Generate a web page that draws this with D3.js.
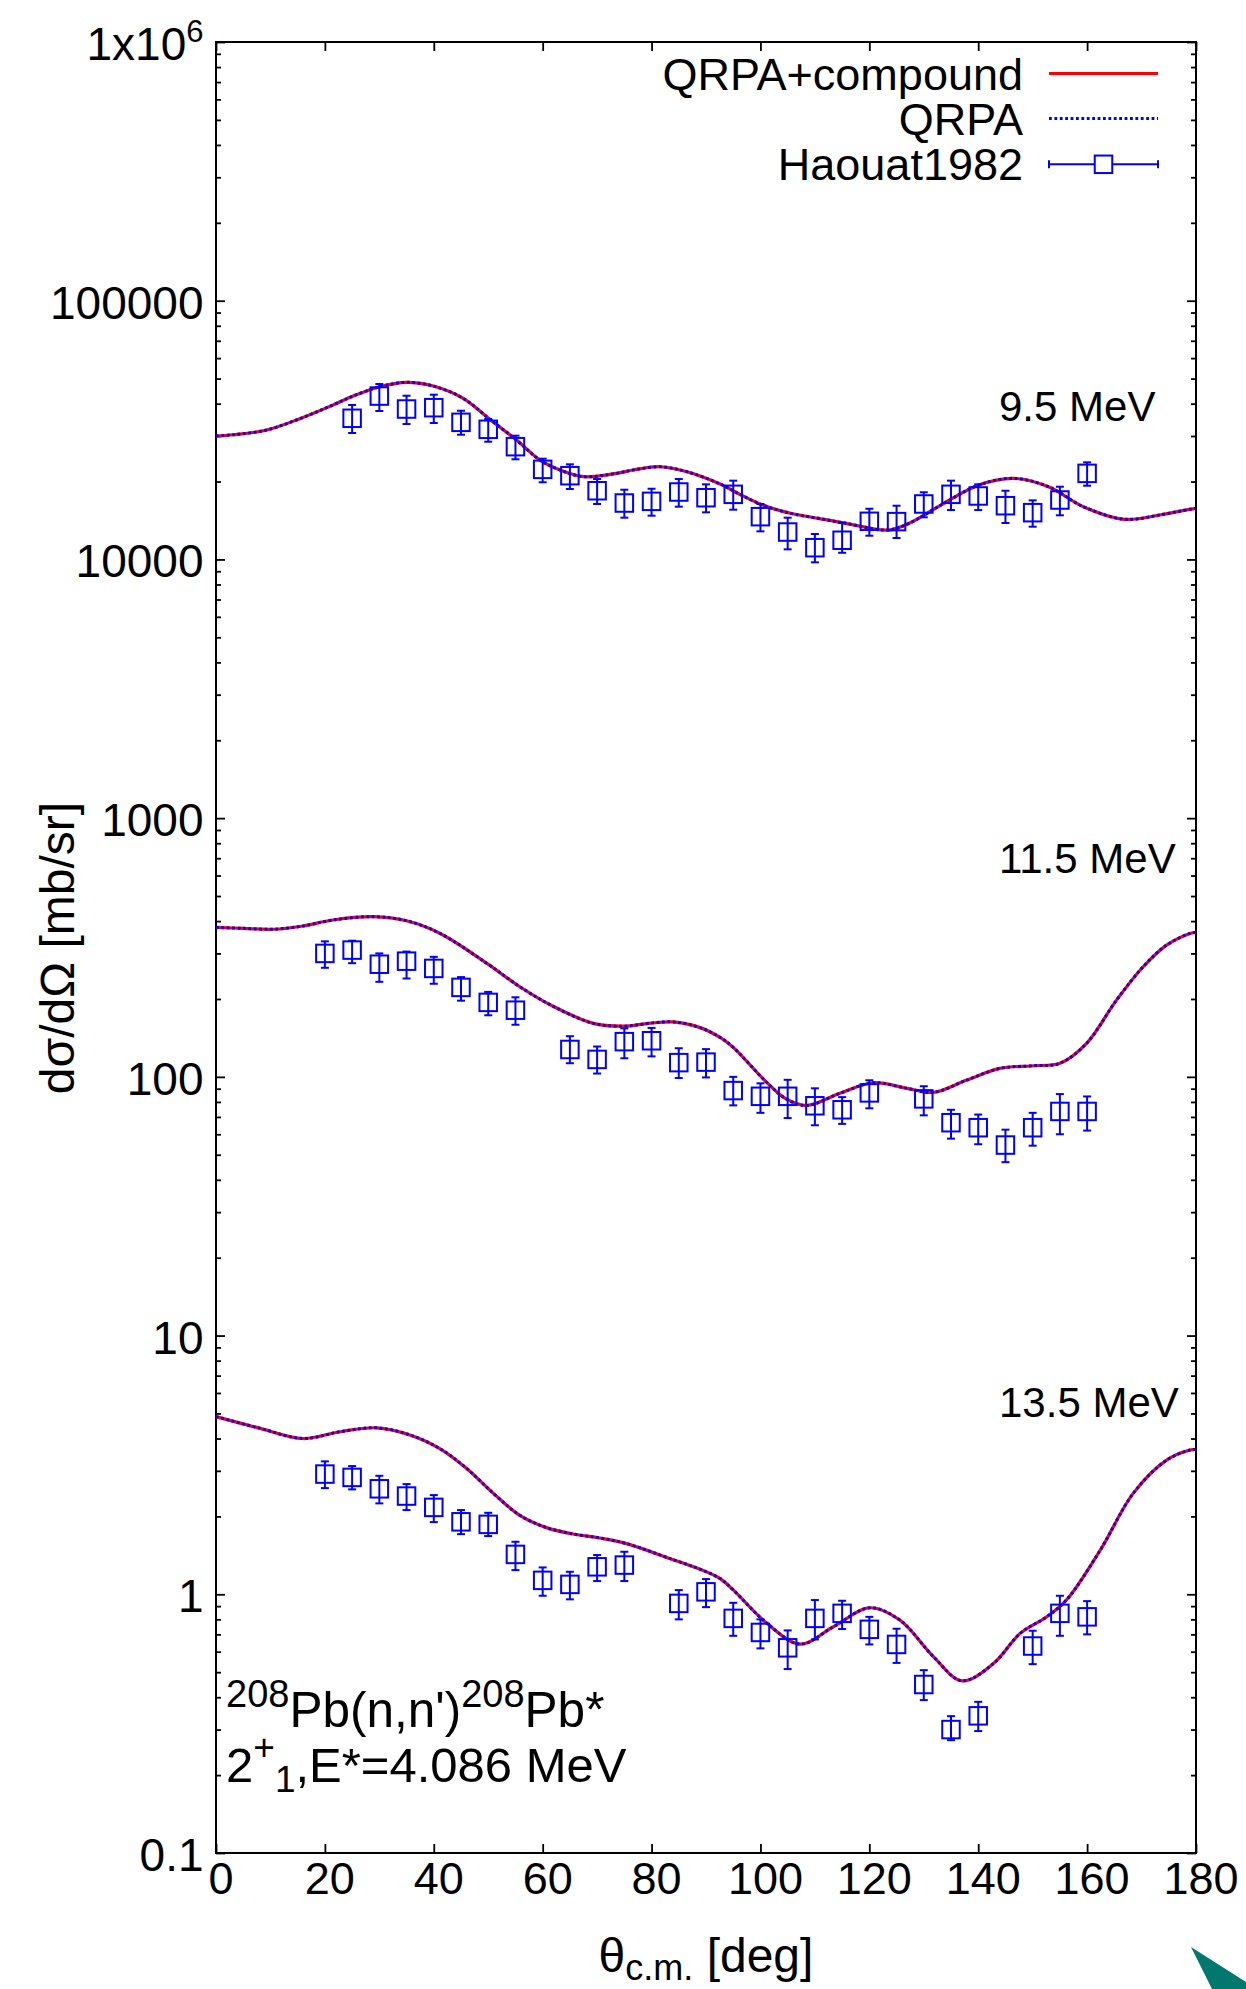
<!DOCTYPE html>
<html><head><meta charset="utf-8">
<script src="https://cdnjs.cloudflare.com/ajax/libs/d3/7.8.5/d3.min.js"></script>
<style>
html,body{margin:0;padding:0;background:#fff;}
svg{display:block;}
text{font-family:"Liberation Sans", Arial, Helvetica, sans-serif;fill:#000;}
</style></head><body>
<svg id="chart" width="1246" height="1989"></svg>
<script>
// ---------- tick labels ----------
const xTicks = [0,20,40,60,80,100,120,140,160,180];
const xTickLabels = ["0","20","40","60","80","100","120","140","160","180"];
const yTicks = [0.1,1,10,100,1000,10000,100000,1000000];
const yTickLabels = ["0.1","1","10","100","1000","10000","100000","1x10^6"];

// ---------- series names ----------
const seriesNames = ["QRPA+compound","QRPA","Haouat1982"];
const energyLabels = ["9.5 MeV","11.5 MeV","13.5 MeV"];

// ---------- theory curves (QRPA+compound and QRPA coincide) ----------
const theoryAngle95 = [0,3.2,9.3,15.4,21.5,25.2,30.1,35,39.9,45.4,50.3,55.2,59.5,63.2,67.5,73.6,76.6,81.6,86.5,92.6,95.3,100.4,105.5,110.6,115.7,123.4,127.3,133.7,140.1,146.5,152.9,159.3,166.9,173.3,178.8,180];
const theoryValue95 = [30000,30340,31640,34990,39540,42800,46520,48360,46810,41950,34780,28940,24210,22160,20890,21520,22160,22820,21830,19560,18270,16230,15080,14420,13790,12990,13790,16480,19390,20570,19100,15990,14290,14850,15620,15750];

const theoryAngle115 = [0,5,10.5,16,21.5,28.9,35,41.1,49.7,55.8,62,69.3,74.8,79.5,84,88.9,92.6,95,101.2,104.8,108.5,114.6,120.7,126.9,131.8,137.9,144,150.1,155,159.9,165.4,170.3,174.6,178.9,180];
const theoryValue115 = [378,375,372,383,404,416,401,359,275,223,187,161,157,161,163,155,142,130,95,82,77.5,86.4,94.9,90.3,87.1,97.2,107.8,110.4,112.8,134.8,198,266.5,323,358.5,362];

const theoryAngle135 = [0,8.1,16,22.8,29.5,35.6,41.1,46,50.9,55.8,60.7,65.6,70.5,75.4,84,88.9,92.6,95,101.2,107.3,113.4,120.1,125.6,131.8,137,142.8,147.7,152.6,156.2,162.4,168.5,174.6,178.9,180];
const theoryValue135 = [4.86,4.38,4.0,4.25,4.40,4.13,3.66,3.07,2.46,2.02,1.81,1.71,1.65,1.57,1.36,1.25,1.15,1.04,0.772,0.642,0.749,0.887,0.795,0.573,0.463,0.540,0.706,0.819,0.950,1.48,2.46,3.30,3.61,3.63];

// ---------- experimental data (Haouat1982) ----------
const expAngle95 = [25,30,35,40,45,50,55,60,65,70,75,80,85,90,95,100,105,110,115,120,125,130,135,140,145,150,155,160];
const expValue95 = [35120,42800,38140,38590,33880,31840,27280,22290,21070,18430,16520,16770,18220,17320,17850,14630,12760,11100,11860,14040,14000,16380,17850,17590,16130,15160,16970,21510];
const expLow95   = [30810,37470,33370,33670,30340,28510,24380,19870,18720,16380,14500,14760,15990,15210,15570,12840,10940,9745,10610,12350,12100,14550,15520,15520,13830,13380,14810,19270];
const expHigh95  = [39540,47640,42940,43330,37560,34890,30080,24510,23310,20460,18600,18760,20460,19510,20160,16380,14500,12540,13870,15700,16130,18180,20160,19510,18430,16920,19100,23730];

const expAngle115 = [20,25,30,35,40,45,50,55,65,70,75,80,85,90,95,100,105,110,115,120,130,135,140,145,150,155,160];
const expValue115 = [300,309,272.5,280,262.5,221.7,194,181,127.6,116.8,136.8,137.9,113.5,114,88.5,84.1,84.1,77.3,74.6,86.7,82.2,66.5,63.6,54.5,63.6,73.5,73.5];
const expLow115   = [264,275,233,240,229,197,173,159,112.9,103,118,120,99,99.5,77.6,72.6,69.3,65,65.8,75.6,71,57.7,54.9,46.8,54.2,60,62];
const expHigh115  = [334,336,300,305,291,243,213,203,143.6,131,154,154.6,129,128,100,94.4,97.4,90.3,83.5,97,92,74.6,71.5,62.5,72.6,85.8,84];

const expAngle135 = [20,25,30,35,40,45,50,55,60,65,70,75,85,90,95,100,105,110,115,120,125,130,135,140,150,155,160];
const expValue135 = [2.915,2.83,2.557,2.397,2.167,1.906,1.863,1.426,1.132,1.092,1.277,1.297,0.922,1.022,0.807,0.712,0.621,0.807,0.844,0.732,0.640,0.448,0.300,0.339,0.631,0.844,0.818];
const expLow135   = [2.573,2.544,2.246,2.116,1.901,1.708,1.679,1.24,0.987,0.956,1.125,1.125,0.80,0.892,0.691,0.618,0.514,0.669,0.734,0.640,0.543,0.390,0.273,0.296,0.537,0.691,0.70];
const expHigh135  = [3.264,3.13,2.871,2.667,2.418,2.116,2.065,1.596,1.27,1.222,1.418,1.46,1.038,1.145,0.927,0.80,0.725,0.95,0.944,0.818,0.736,0.509,0.338,0.384,0.723,0.987,0.941];

// ---------- layout ----------
const L = 216, R = 1196, T = 42, B = 1853;
const svg = d3.select("#chart");
const x = d3.scaleLinear().domain([0,180]).range([L,R]);
const y = d3.scaleLog().domain([0.1,1e6]).range([B,T]);

const RED = "#ff0000", BLUE = "#0000ff";

// minor ticks
const minorY = [];
for (let e = -1; e < 6; e++) for (let m = 2; m <= 9; m++) minorY.push(m * Math.pow(10, e));

function styleAxis(g){
  g.select(".domain").remove();
  g.selectAll(".tick line").attr("stroke","#000").attr("stroke-width",1.8);
  g.selectAll(".tick text").remove();
}
svg.append("g").attr("transform",`translate(0,${B})`)
  .call(d3.axisBottom(x).tickValues(xTicks).tickSize(-9).tickFormat("")).call(styleAxis);
svg.append("g").attr("transform",`translate(0,${T})`)
  .call(d3.axisTop(x).tickValues(xTicks).tickSize(-9).tickFormat("")).call(styleAxis);
svg.append("g").attr("transform",`translate(${L},0)`)
  .call(d3.axisLeft(y).tickValues(yTicks).tickSize(-9).tickFormat("")).call(styleAxis);
svg.append("g").attr("transform",`translate(${L},0)`)
  .call(d3.axisLeft(y).tickValues(minorY).tickSize(-5).tickFormat("")).call(styleAxis);
svg.append("g").attr("transform",`translate(${R},0)`)
  .call(d3.axisRight(y).tickValues(yTicks).tickSize(-9).tickFormat("")).call(styleAxis);
svg.append("g").attr("transform",`translate(${R},0)`)
  .call(d3.axisRight(y).tickValues(minorY).tickSize(-5).tickFormat("")).call(styleAxis);

// frame
svg.append("rect").attr("x",L).attr("y",T).attr("width",R-L).attr("height",B-T)
  .attr("fill","none").attr("stroke","#000").attr("stroke-width",2);

// x tick labels
svg.append("g").selectAll("text").data(xTicks).join("text")
  .attr("x",d=>x(d)+5).attr("y",B+41).attr("text-anchor","middle")
  .attr("font-size",45).text((d,i)=>xTickLabels[i]);

// y tick labels
const yl = svg.append("g").selectAll("text").data(yTicks).join("text")
  .attr("x",L-12.5).attr("y",d=>y(d)+18).attr("text-anchor","end").attr("font-size",46);
yl.each(function(d,i){
  const s = yTickLabels[i];
  const t = d3.select(this);
  if (s.includes("^")) {
    const [base, sup] = s.split("^");
    t.append("tspan").text(base);
    t.append("tspan").attr("dy",-18).attr("font-size",31).text(sup);
  } else t.text(s);
});

// axis titles
svg.append("text").attr("transform",`translate(74,948) rotate(-90)`)
  .attr("text-anchor","middle").attr("font-size",48).text("dσ/dΩ [mb/sr]");
const xt = svg.append("text").attr("x",706).attr("y",1972).attr("text-anchor","middle").attr("font-size",48);
xt.append("tspan").text("θ");
xt.append("tspan").attr("dy",8).attr("font-size",36).text("c.m.");
xt.append("tspan").attr("dy",-8).text(" [deg]");

// theory curves
const line = d3.line().x(d=>x(d[0])).y(d=>y(d[1])).curve(d3.curveCatmullRom.alpha(0.5));
const curves = [
  d3.zip(theoryAngle95, theoryValue95),
  d3.zip(theoryAngle115, theoryValue115),
  d3.zip(theoryAngle135, theoryValue135)
];
const gc = svg.append("g");
curves.forEach(c=>{
  gc.append("path").attr("d",line(c)).attr("fill","none").attr("stroke",RED).attr("stroke-width",3.2);
});
curves.forEach(c=>{
  gc.append("path").attr("d",line(c)).attr("fill","none").attr("stroke",BLUE).attr("stroke-width",3)
    .attr("stroke-dasharray","2.8,2.6");
});

// experimental points
const SQ = 17.5, CAP = 4;
const sets = [
  {a:expAngle95, v:expValue95, lo:expLow95, hi:expHigh95},
  {a:expAngle115, v:expValue115, lo:expLow115, hi:expHigh115},
  {a:expAngle135, v:expValue135, lo:expLow135, hi:expHigh135}
];
const gp = svg.append("g").attr("stroke",BLUE).attr("fill","none").attr("stroke-width",2);
sets.forEach(s=>{
  const pts = s.a.map((a,i)=>({a, v:s.v[i], lo:s.lo[i], hi:s.hi[i]}));
  const g = gp.append("g");
  g.selectAll("line.eb").data(pts).join("line").attr("class","eb")
    .attr("x1",d=>x(d.a)).attr("x2",d=>x(d.a)).attr("y1",d=>y(d.lo)).attr("y2",d=>y(d.hi));
  g.selectAll("line.ct").data(pts).join("line").attr("class","ct")
    .attr("x1",d=>x(d.a)-CAP).attr("x2",d=>x(d.a)+CAP).attr("y1",d=>y(d.hi)).attr("y2",d=>y(d.hi));
  g.selectAll("line.cb").data(pts).join("line").attr("class","cb")
    .attr("x1",d=>x(d.a)-CAP).attr("x2",d=>x(d.a)+CAP).attr("y1",d=>y(d.lo)).attr("y2",d=>y(d.lo));
  g.selectAll("rect").data(pts).join("rect")
    .attr("x",d=>x(d.a)-SQ/2).attr("y",d=>y(d.v)-SQ/2).attr("width",SQ).attr("height",SQ);
});

// energy labels
const energyY = [421, 873, 1417];
svg.append("g").selectAll("text").data(energyLabels).join("text")
  .attr("x",999).attr("y",(d,i)=>energyY[i]).attr("font-size",42).text(d=>d);

// legend
const legRows = [73.5, 118.5, 164.3];
const lx1 = 1049, lx2 = 1158, lxm = (lx1+lx2)/2;
const leg = svg.append("g");
leg.selectAll("text").data(seriesNames).join("text")
  .attr("x",1023).attr("y",(d,i)=>legRows[i]+16).attr("text-anchor","end")
  .attr("font-size",45).text(d=>d);
leg.append("line").attr("x1",lx1).attr("x2",lx2).attr("y1",legRows[0]).attr("y2",legRows[0])
  .attr("stroke",RED).attr("stroke-width",3.2);
leg.append("line").attr("x1",lx1).attr("x2",lx2).attr("y1",legRows[1]).attr("y2",legRows[1])
  .attr("stroke",BLUE).attr("stroke-width",3).attr("stroke-dasharray","2.8,2.6");
const le = leg.append("g").attr("stroke",BLUE).attr("stroke-width",2).attr("fill","none");
le.append("line").attr("x1",lx1).attr("x2",lx2).attr("y1",legRows[2]).attr("y2",legRows[2]);
le.append("line").attr("x1",lx1).attr("x2",lx1).attr("y1",legRows[2]-CAP).attr("y2",legRows[2]+CAP);
le.append("line").attr("x1",lx2).attr("x2",lx2).attr("y1",legRows[2]-CAP).attr("y2",legRows[2]+CAP);
le.append("rect").attr("x",lxm-SQ/2).attr("y",legRows[2]-SQ/2).attr("width",SQ).attr("height",SQ)
  .attr("fill","#fff");

// reaction annotation
const a1 = svg.append("text").attr("x",226).attr("y",1727).attr("font-size",49.5);
a1.append("tspan").attr("dy",-20).attr("font-size",38).text("208");
a1.append("tspan").attr("dy",20).text("Pb(n,n')");
a1.append("tspan").attr("dy",-20).attr("font-size",38).text("208");
a1.append("tspan").attr("dy",20).text("Pb*");
const a2 = svg.append("text").attr("x",226).attr("y",1781.7).attr("font-size",49);
a2.append("tspan").text("2");
a2.append("tspan").attr("dy",-22).attr("font-size",37).text("+");
a2.append("tspan").attr("dy",32).attr("font-size",37).text("1");
a2.append("tspan").attr("dy",-10).text(",E*=4.086 MeV");

// corner mark
svg.append("polygon").attr("points","1191,1947 1246,1982 1246,1989 1212,1989").attr("fill","#00786e");
</script>
</body></html>
